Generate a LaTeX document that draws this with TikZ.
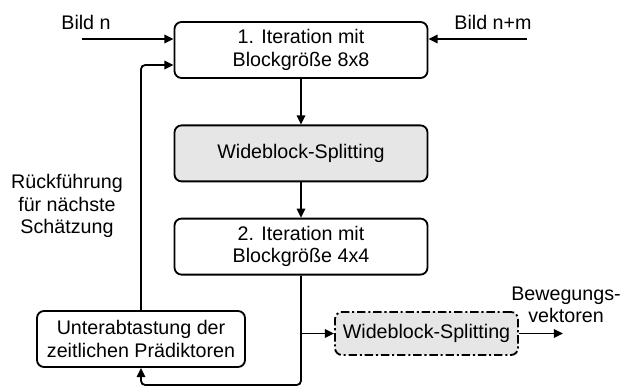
\documentclass[tikz,border=0pt]{standalone}
\usepackage{fontspec}
\setmainfont{Liberation Sans}
\usetikzlibrary{arrows.meta}
\definecolor{boxgray}{HTML}{E6E6E6}

\begin{document}
\begin{tikzpicture}[line width=1.3pt, font=\fontsize{14}{16}\selectfont,
    >={Triangle[length=6.5pt,width=6pt]},
    block/.style={draw, rounded corners=5pt, align=center, inner sep=0pt,
      minimum width=6.325cm, minimum height=1.4cm},
    splitbox/.style={block, fill=boxgray},
    txt/.style={align=center, inner sep=0pt}]
      \useasboundingbox (0,0) rectangle (15.5,9.675);

      % Main column
      \node[block] (iter1) at (7.525,8.425) {1. Iteration mit\\Blockgröße 8x8};
      \node[splitbox] (split1) at (7.525,5.84) {Wideblock-Splitting};
      \node[block] (iter2) at (7.525,3.51) {2. Iteration mit\\Blockgröße 4x4};

      % Lower boxes
      \node[splitbox, minimum width=4.575cm, minimum height=1.075cm,
        dash pattern=on 6pt off 2pt on 1.5pt off 2pt] (split2) at (10.6625,1.3375) {Wideblock-Splitting};
      \node[block, minimum width=5.2cm, minimum height=1.4cm] (sub) at (3.525,1.2) {Unterabtastung der\\zeitlichen Prädiktoren};

      % Texts
      \node[txt] (bildA) at (2.15,9.125) {Bild n};
      \node[txt] (bildB) at (12.325,9.125) {Bild n+m};
      \node[txt] (fb) at (1.675,4.525) {Rückführung\\für nächste\\Schätzung};
      \node[txt] (mv) at (14.15,2.05) {Bewegungs-\\vektoren};

      % Helper points
      \coordinate (inA) at (2.05,8.7);
      \coordinate (inB) at (13.175,8.7);
      \coordinate (back) at (3.525,8.05);
      \coordinate (bottom) at (7.525,0.05);
      \coordinate (out) at (14.075,1.3375);

      % Connectors
      \draw[->] (inA) -- (inA -| iter1.west);
      \draw[->] (inB) -- (inB -| iter1.east);
      \draw[->] (iter1) -- (split1);
      \draw[->] (split1) -- (iter2);
      \draw[->] (iter2.south |- split2.west) -- (split2.west);
      \draw[->] (split2.east) -- (out);

      % Feedback loop
      \draw[->, rounded corners=3pt] (iter2.south) -- (bottom) -- (bottom -| sub.south) -- (sub.south);
      \draw[->, rounded corners=3pt] (sub.north) -- (back) -- (back -| iter1.west);

    \end{tikzpicture}
\end{document}
